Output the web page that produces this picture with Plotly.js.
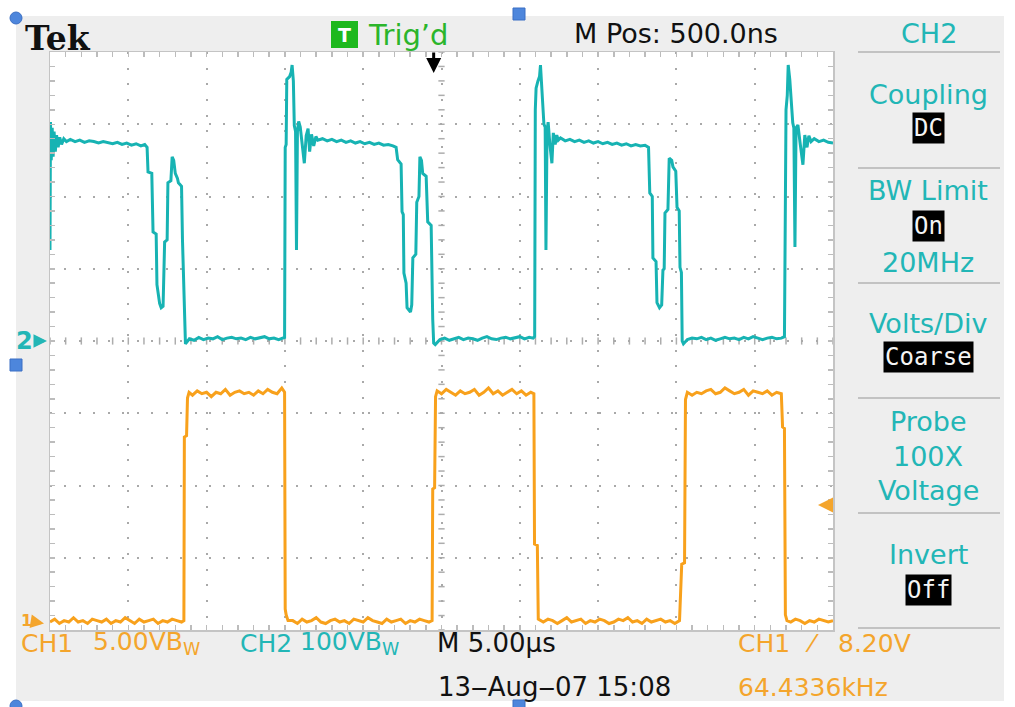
<!DOCTYPE html>
<html><head><meta charset="utf-8">
<script src="https://cdn.plot.ly/plotly-3.0.1.min.js"></script>
<style>html,body{margin:0;padding:0;background:#fff;}</style>
</head><body><div id="chart" style="width:1015px;height:707px;"></div>
<script>
// ---------------- DATA ----------------
// CH1 (orange) : time in microseconds, volts (5 V/div)
const ch1Time = [
 -24.5,-24.2,-23.9,-23.6,-23.3,-23.0,-22.7,-22.4,-22.1,-21.8,-21.5,-21.2,-20.9,-20.6,-20.3,-20.0,-19.7,-19.4,-19.1,-18.8,-18.5,-18.2,-17.9,-17.6,-17.3,-17.0,-16.7,-16.4,-16.1,-15.95,
 -15.92,-15.78,-15.72,-15.62,
 -15.4,-15.1,-14.8,-14.5,-14.2,-13.9,-13.6,-13.3,-13.0,-12.7,-12.4,-12.1,-11.8,-11.5,-11.2,-10.9,-10.6,-10.3,-10.0,-9.7,-9.52,
 -9.48,-9.42,-9.30,
 -9.0,-8.7,-8.4,-8.1,-7.8,-7.5,-7.2,-6.9,-6.6,-6.3,-6.0,-5.7,-5.4,-5.1,-4.8,-4.5,-4.2,-3.9,-3.6,-3.3,-3.0,-2.7,-2.4,-2.1,-1.8,-1.5,-1.2,-0.9,-0.6,-0.3,-0.10,
 -0.06,0.06,0.12,0.22,
 0.5,0.8,1.1,1.4,1.7,2.0,2.3,2.6,2.9,3.2,3.5,3.8,4.1,4.4,4.7,5.0,5.3,5.6,5.9,6.2,6.40,
 6.44,6.62,6.68,
 7.0,7.3,7.6,7.9,8.2,8.5,8.8,9.1,9.4,9.7,10.0,10.3,10.6,10.9,11.2,11.5,11.8,12.1,12.4,12.7,13.0,13.3,13.6,13.9,14.2,14.5,14.8,15.1,15.4,15.7,
 15.84,16.02,16.08,16.2,
 16.5,16.8,17.1,17.4,17.7,18.0,18.3,18.6,18.9,19.2,19.5,19.8,20.1,20.4,20.7,21.0,21.3,21.6,21.9,22.2,
 22.28,22.40,22.46,22.56,
 22.8,23.1,23.4,23.7,24.0,24.3,24.6,24.9,25.2,25.5
];
const ch1Volts = [
 0.1,0.3,0.0,0.2,0.1,0.4,0.1,0.2,0.0,0.3,0.2,0.1,0.3,0.0,0.2,0.1,0.4,0.2,0.0,0.3,0.1,0.2,0.3,0.0,0.2,0.1,0.3,0.2,0.1,0.2,
 12.9,13.0,15.6,16.0,
 15.8,16.1,15.9,16.0,15.7,16.0,15.9,16.2,15.8,16.0,16.1,15.9,16.0,15.8,16.1,15.9,16.2,16.0,15.9,16.3,16.0,
 1.0,0.6,0.2,
 0.2,0.0,0.3,0.1,0.2,0.4,0.1,0.0,0.2,0.3,0.1,0.2,0.0,0.3,0.2,0.1,0.4,0.2,0.1,0.0,0.3,0.1,0.2,0.3,0.0,0.2,0.1,0.3,0.2,0.1,0.2,
 9.3,9.4,15.7,16.1,
 15.9,16.2,16.0,15.8,16.1,15.9,16.0,16.2,15.8,16.0,16.3,15.9,16.1,15.8,16.0,16.2,15.9,16.1,15.8,16.0,15.9,
 5.5,5.4,0.3,
 0.1,0.3,0.2,0.0,0.2,0.4,0.1,0.2,0.3,0.0,0.2,0.1,0.3,0.2,0.0,0.1,0.3,0.2,0.4,0.1,0.2,0.0,0.3,0.1,0.2,0.3,0.1,0.2,0.0,0.2,
 4.1,4.2,15.5,16.0,
 15.8,16.0,15.9,16.1,16.2,15.9,16.0,16.3,16.1,15.9,16.0,16.2,15.8,16.1,16.0,15.9,16.1,15.8,16.0,15.9,
 13.6,13.5,0.6,0.2,
 0.1,0.3,0.2,0.0,0.2,0.1,0.3,0.2,0.1,0.2
];

// CH2 (cyan) : time in microseconds, volts (100 V/div)
const ch2Time = [
 -24.50,-24.47,-24.42,-24.36,-24.30,-24.24,-24.16,-24.08,-23.98,-23.88,-23.76,-23.62,-23.45,-23.2,-22.9,-22.6,-22.3,-22.0,-21.7,-21.4,-21.1,-20.8,-20.5,-20.2,-19.9,-19.6,-19.3,-19.0,-18.7,-18.45,-18.30,
 -18.24,-18.00,-17.92,-17.72,-17.67,-17.50,-17.40,-17.28,-17.18,-17.02,-16.97,-16.78,-16.70,-16.60,-16.50,-16.36,-16.30,-16.10,-16.04,-15.96,-15.90,
 -15.85,-15.6,-15.3,-15.0,-14.7,-14.4,-14.1,-13.8,-13.5,-13.2,-12.9,-12.6,-12.3,-12.0,-11.7,-11.4,-11.1,-10.8,-10.5,-10.2,-9.9,-9.62,-9.52,
 -9.48,-9.42,-9.38,-9.20,-9.10,-9.04,-8.96,-8.90,-8.82,-8.76,-8.70,-8.62,-8.52,-8.40,-8.26,-8.14,-8.02,-7.92,-7.80,-7.66,-7.52,-7.40,
 -7.1,-6.8,-6.5,-6.2,-5.9,-5.6,-5.3,-5.0,-4.7,-4.4,-4.1,-3.8,-3.5,-3.2,-2.9,-2.6,-2.40,
 -2.30,-2.08,-2.02,-1.94,-1.90,-1.76,-1.70,-1.48,-1.40,-1.33,-1.14,-1.08,-0.94,-0.88,-0.78,-0.70,-0.48,-0.38,-0.16,-0.12,-0.06,0.00,
 0.10,0.4,0.7,1.0,1.3,1.6,1.9,2.2,2.5,2.8,3.1,3.4,3.7,4.0,4.3,4.6,4.9,5.2,5.5,5.8,6.1,6.35,6.45,
 6.49,6.54,6.66,6.76,6.82,6.90,6.97,7.04,7.12,7.17,7.24,7.31,7.42,7.55,7.64,7.76,7.86,7.96,8.10,
 8.4,8.7,9.0,9.3,9.6,9.9,10.2,10.5,10.8,11.1,11.4,11.7,12.0,12.3,12.6,12.9,13.2,13.5,13.72,
 13.80,13.96,14.00,14.20,14.26,14.42,14.56,14.64,14.72,14.77,14.96,15.04,15.20,15.28,15.46,15.54,15.68,15.73,15.82,15.87,
 15.95,16.2,16.5,16.8,17.1,17.4,17.7,18.0,18.3,18.6,18.9,19.2,19.5,19.8,20.1,20.4,20.7,21.0,21.3,21.6,21.9,22.2,22.40,
 22.45,22.50,22.58,22.64,22.74,22.84,22.93,23.00,23.07,23.14,23.26,23.40,23.58,23.70,23.84,23.96,24.10,
 24.3,24.6,24.9,25.2,25.5
];
const ch2Volts = [
 126,303,250,295,255,290,262,285,268,282,272,280,276,279,276,278,275,277,276,274,276,275,273,275,272,274,271,273,270,272,268,
 234,232,151,148,78,52,46,48,137,140,219,222,255,250,232,225,219,214,140,75,10,
 -4,3,1,5,2,4,3,6,2,4,5,3,4,2,5,3,4,6,3,4,2,4,5,
 268,272,362,366,372,382,360,298,290,126,290,304,296,270,246,284,294,262,286,270,283,278,
 280,277,279,276,278,275,277,274,276,273,275,272,274,271,272,270,268,
 251,245,179,175,94,80,46,40,50,115,120,192,200,255,250,232,228,165,160,89,30,-3,
 -5,2,4,1,3,5,2,4,3,1,4,6,3,2,4,5,3,4,6,3,5,4,6,
 320,350,360,366,382,352,322,300,296,126,290,303,272,246,288,272,285,278,281,
 277,279,276,278,275,277,274,276,273,275,272,274,271,273,270,272,270,271,268,
 205,200,115,110,53,46,50,98,100,177,182,253,250,241,235,185,180,102,95,0,
 -4,2,4,3,5,2,4,1,3,5,3,4,2,5,3,6,4,2,4,5,3,4,6,
 300,320,340,382,362,330,302,295,130,295,299,274,244,285,268,284,276,
 280,276,278,275,274
];

// Scope settings / readouts
const triggerTime = 0;        // µs
const triggerLevelCh1 = 8.2;  // V
const ch1Ground = 0, ch2Ground = 0;
const menuTitles = ["Coupling","BW Limit","Volts/Div","Probe","Invert"];
const menuValues = ["DC","On","Coarse","Off"];

// ---------------- LAYOUT HELPERS ----------------
const L=50, R=833, T=52, B=630;
const px = p => (p-L)/(R-L);
const py = p => (B-p)/(B-T);
const CYAN='#22b6b6', ORANGE='#f4a52c', TRC_C='#17b3b3', TRC_O='#f8a11c';
const UI="'DejaVu Sans',Roboto,sans-serif";
const MONO="'DejaVu Sans Mono','Liberation Mono',monospace";

const traces = [
 {x: ch2Time, y: ch2Volts, type:'scatter', mode:'lines', yaxis:'y',
  line:{color:TRC_C, width:3}, hoverinfo:'skip', showlegend:false},
 {x: ch1Time, y: ch1Volts, type:'scatter', mode:'lines', yaxis:'y2',
  line:{color:TRC_O, width:3}, hoverinfo:'skip', showlegend:false}
];

const shapes = [];
// white outer margins round the grey scope frame
const bandFill = {type:'rect', xref:'paper', yref:'paper', fillcolor:'#ffffff', line:{width:0}, layer:'below'};
shapes.push(Object.assign({}, bandFill, {x0:px(0), x1:px(1015), y0:py(0), y1:py(16)}));
shapes.push(Object.assign({}, bandFill, {x0:px(0), x1:px(16), y0:py(0), y1:py(707)}));
shapes.push(Object.assign({}, bandFill, {x0:px(1004), x1:px(1015), y0:py(0), y1:py(707)}));
shapes.push(Object.assign({}, bandFill, {x0:px(0), x1:px(1015), y0:py(701), y1:py(707)}));
// right menu separators
[52,168,283,398,513,628].forEach(yy => shapes.push({type:'line', xref:'paper', yref:'paper',
  x0:px(858), x1:px(1000), y0:py(yy), y1:py(yy), line:{color:'#c2c2c2', width:2}}));
// green "T" box
shapes.push({type:'rect', xref:'paper', yref:'paper', x0:px(331), x1:px(358), y0:py(48), y1:py(21),
  fillcolor:'#1db81d', line:{width:0}});
// centre-line ticks (every minor division)
for (let v=-400; v<=400; v+=20) {
  shapes.push({type:'line', xref:'x', yref:'y', x0:0.5-0.2, x1:0.5+0.2, y0:v, y1:v,
    line:{color:'#adadad', width:1.5}, layer:'below'});
}
for (let t=-24.5; t<=25.5; t+=1) {
  shapes.push({type:'line', xref:'x', yref:'y', x0:t, x1:t, y0:-5, y1:5,
    line:{color:'#adadad', width:1.5}, layer:'below'});
}
// blue editor handles
const handle = (x,y,circle) => ({type: circle?'circle':'rect', xref:'paper', yref:'paper',
  x0:px(x-6), x1:px(x+6), y0:py(y+6), y1:py(y-6), fillcolor:'#4d86dc', line:{color:'#3b6fc4', width:1}});
shapes.push(handle(16,18,true), handle(519,14,false), handle(16,365,false), handle(519,706,false), handle(16,706,true));

const ann = [];
const A = (text, x, y, color, size, opts) => ann.push(Object.assign({
  text, x:px(x), y:py(y), xref:'paper', yref:'paper', showarrow:false,
  xanchor:'center', yanchor:'middle', font:{family:UI, size, color}}, opts||{}));

A('Tek', 23, 38, '#111', 32, {xanchor:'left', font:{family:"'DejaVu Serif','Liberation Serif',serif", size:33, color:'#111', weight:700}});
A('T', 344.5, 35, '#ffffff', 19, {font:{family:UI, size:19, color:'#fff', weight:700}});
A("Trig’d", 366, 35, '#2bb52b', 29, {xanchor:'left'});
A('M Pos: 500.0ns', 676, 34, '#111', 27);
A('CH2', 929, 34, CYAN, 27);
// right menu
const MS = 27;
A(menuTitles[0], 928, 94, CYAN, MS);
A(menuTitles[1], 928, 190, CYAN, MS);
A('20MHz', 928, 262, CYAN, MS);
A(menuTitles[2], 928, 323, CYAN, MS);
A(menuTitles[3], 928, 421, CYAN, MS);
A('100X', 928, 456, CYAN, MS);
A('Voltage', 928, 490, CYAN, MS);
A(menuTitles[4], 928, 554, CYAN, MS);
const boxY = [128, 226, 357, 590];
menuValues.forEach((v,i) => A(v, 928, boxY[i], '#fff', 24, {bgcolor:'#000', borderpad:1,
  font:{family:MONO, size:24, color:'#f4f4f4'}}));
// bottom readouts
const BS = 25;
A('CH1', 20, 643, ORANGE, BS, {xanchor:'left', borderpad:0});
A('5.00VB<sub>W</sub>', 92, 643, ORANGE, BS, {xanchor:'left', borderpad:0});
A('CH2', 239, 643, CYAN, BS, {xanchor:'left', borderpad:0});
A('100VB<sub>W</sub>', 299, 643, CYAN, BS, {xanchor:'left', borderpad:0});
A('M 5.00µs', 436, 643, '#111', 26, {xanchor:'left', borderpad:0});
A('13‒Aug‒07 15:08', 437, 687, '#111', 26, {xanchor:'left', borderpad:0});
A('CH1', 737, 643, ORANGE, BS, {xanchor:'left', borderpad:0});
A('⁄', 812, 643, ORANGE, BS, {borderpad:0});
A('8.20V', 837, 643, ORANGE, BS, {xanchor:'left', borderpad:0});
A('64.4336kHz', 737, 687, ORANGE, BS, {xanchor:'left', borderpad:0});
// channel ground markers (tied to the data axes)
ann.push({text:'2', xref:'paper', yref:'y', x:px(47), y:ch2Ground, ax:-23, ay:0, showarrow:true,
  arrowhead:2, arrowsize:0.9, arrowwidth:3, arrowcolor:CYAN, standoff:0, startstandoff:0,
  font:{family:UI, size:24, color:CYAN, weight:700}});
ann.push({text:'1', xref:'paper', yref:'y2', x:px(44), y:ch1Ground, ax:-18, ay:-3, showarrow:true,
  arrowhead:2, arrowsize:0.9, arrowwidth:3, arrowcolor:ORANGE, standoff:0, startstandoff:0, borderpad:0,
  font:{family:UI, size:16, color:ORANGE, weight:700}});
// trigger position (top) and trigger level (right)
ann.push({text:'', xref:'x', yref:'paper', x:triggerTime, y:py(73), ax:0, ay:-22, showarrow:true,
  arrowhead:2, arrowsize:1, arrowwidth:3, arrowcolor:'#000'});
ann.push({text:'', xref:'paper', yref:'y2', x:px(818), y:triggerLevelCh1, ax:15, ay:0, showarrow:true,
  arrowhead:2, arrowsize:1, arrowwidth:3, arrowcolor:ORANGE});

const layout = {
  width:1015, height:707, autosize:false,
  margin:{l:L, r:1015-R, t:T, b:707-B, pad:0},
  paper_bgcolor:'#eeeeee', plot_bgcolor:'#ffffff',
  showlegend:false,
  xaxis:{range:[-24.5,25.5], tick0:0.5, dtick:5, showticklabels:false,
    showgrid:true, gridcolor:'#a9a9a9', gridwidth:2, griddash:'2px,13.66px',
    showline:true, linecolor:'#c4c4c4', linewidth:1.5, mirror:'ticks',
    ticks:'inside', ticklen:5, tickwidth:1.5, tickcolor:'#bcbcbc',
    minor:{tick0:0.5, dtick:1, ticks:'inside', ticklen:5, tickwidth:1.5, tickcolor:'#bcbcbc', showgrid:false},
    zeroline:false, fixedrange:true},
  yaxis:{range:[-400,400], dtick:100, tick0:0, showticklabels:false,
    showgrid:true, gridcolor:'#a9a9a9', gridwidth:2, griddash:'2px,12.45px',
    showline:true, linecolor:'#c4c4c4', linewidth:1.5, mirror:'ticks',
    ticks:'inside', ticklen:5, tickwidth:1.5, tickcolor:'#bcbcbc',
    minor:{tick0:0, dtick:20, ticks:'inside', ticklen:5, tickwidth:1.5, tickcolor:'#bcbcbc', showgrid:false},
    zeroline:false, fixedrange:true},
  yaxis2:{range:[-0.45,39.55], overlaying:'y', visible:false, fixedrange:true},
  shapes, annotations: ann
};

Plotly.newPlot('chart', traces, layout, {staticPlot:true, displayModeBar:false});
</script></body></html>
